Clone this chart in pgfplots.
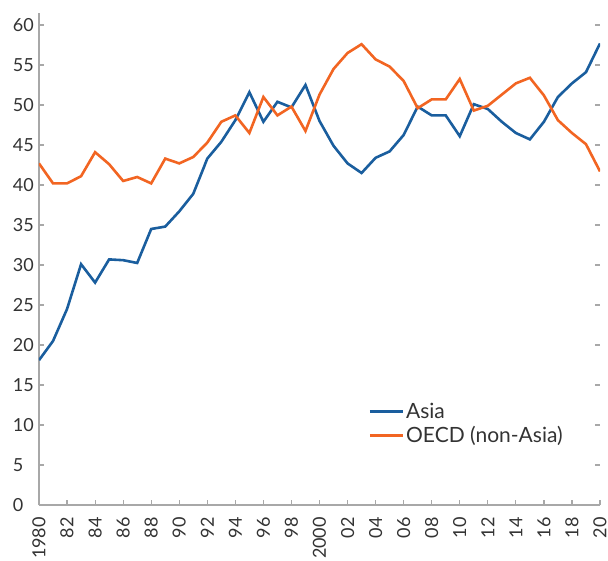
\documentclass[border=0pt]{standalone}
\usepackage{fontspec}
\setmainfont{Lato}
\usepackage{pgfplots}
\pgfplotsset{compat=1.18}
\definecolor{asiablue}{HTML}{1A5E9E}
\definecolor{oecdorange}{HTML}{F26522}
\definecolor{axgray}{HTML}{A8A8A8}
\definecolor{txtgray}{HTML}{333333}
\begin{document}
\begin{tikzpicture}
\begin{axis}[
  name=ax,
  scale only axis,
  width=561pt, height=492pt,
  xmin=1980, xmax=2020, ymin=0, ymax=61.5,
  axis x line*=bottom, axis y line*=left,
  axis line style={axgray, line width=1.2pt, -},
  tick style={axgray, line width=1.2pt},
  major tick length=5pt,
  tick align=inside,
  xtick={1980,1982,...,2020},
  xticklabels={1980,82,84,86,88,90,92,94,96,98,2000,02,04,06,08,10,12,14,16,18,20},
  x tick label style={rotate=90, anchor=east, inner sep=0pt},
  xticklabel shift=12pt,
  ytick={0,5,...,60},
  y tick label style={anchor=west, inner sep=0pt, xshift=-26.3pt},
  yticklabel shift=0pt,
  /pgf/number format/assume math mode=true,
  ticklabel style={font=\fontsize{18}{21}\selectfont, text=txtgray},
  legend style={at={(0.587,0.212)}, anchor=north west, draw=none, fill=none,
    font=\fontsize{21}{24}\selectfont, text=txtgray, row sep=3pt, inner sep=0pt},
  legend cell align=left,
  legend image code/.code={\draw[#1] (0pt,0pt) -- (33pt,0pt);},
]
\addplot[asiablue, line width=2.6pt] coordinates {
(1980,18.1)(1981,20.5)(1982,24.5)(1983,30.1)(1984,27.8)(1985,30.7)(1986,30.6)(1987,30.25)(1988,34.5)(1989,34.8)
(1990,36.7)(1991,38.9)(1992,43.3)(1993,45.4)(1994,48.1)(1995,51.6)(1996,47.9)(1997,50.4)(1998,49.7)(1999,52.5)
(2000,48.0)(2001,44.9)(2002,42.7)(2003,41.5)(2004,43.4)(2005,44.2)(2006,46.25)(2007,49.8)(2008,48.7)(2009,48.7)
(2010,46.1)(2011,50.1)(2012,49.5)(2013,47.9)(2014,46.5)(2015,45.7)(2016,47.9)(2017,51.0)(2018,52.7)(2019,54.1)
(2020,57.7)};
\addlegendentry{Asia}
\addplot[oecdorange, line width=2.6pt] coordinates {
(1980,42.7)(1981,40.2)(1982,40.2)(1983,41.1)(1984,44.1)(1985,42.6)(1986,40.5)(1987,41.0)(1988,40.2)(1989,43.3)
(1990,42.7)(1991,43.5)(1992,45.3)(1993,47.9)(1994,48.7)(1995,46.5)(1996,51.0)(1997,48.7)(1998,49.8)(1999,46.75)
(2000,51.3)(2001,54.5)(2002,56.5)(2003,57.6)(2004,55.7)(2005,54.8)(2006,53.0)(2007,49.6)(2008,50.7)(2009,50.7)
(2010,53.25)(2011,49.3)(2012,49.9)(2013,51.3)(2014,52.7)(2015,53.4)(2016,51.2)(2017,48.1)(2018,46.5)(2019,45.1)
(2020,41.7)};
\addlegendentry{OECD (non-Asia)}
\end{axis}
\begin{axis}[
  at={(ax.south west)}, anchor=south west,
  scale only axis,
  width=561pt, height=492pt,
  xmin=1980, xmax=2020, ymin=0, ymax=61.5,
  axis x line=none, axis y line*=right,
  y axis line style={draw=none},
  tick style={axgray, line width=1.2pt},
  major tick length=5pt,
  tick align=inside,
  ytick={0,5,...,60}, yticklabels={},
]
\end{axis}
\pgfresetboundingbox
\path ([xshift=-39pt,yshift=-55pt]ax.south west) rectangle ([xshift=8pt,yshift=13pt]ax.north east);
\end{tikzpicture}
\end{document}
